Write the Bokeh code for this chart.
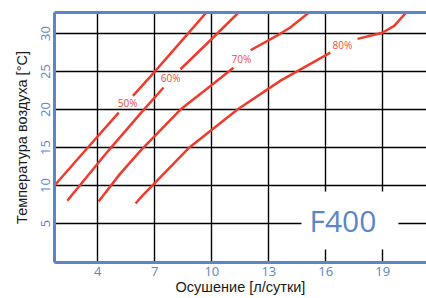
import math
from bokeh.plotting import figure
from bokeh.models import LinearAxis, FixedTicker, Range1d, Label, ColumnDataSource
from bokeh.embed import file_html
from bokeh.resources import INLINE
from bokeh.core.properties import value

nan = float("nan")

# ticks
x_ticks = [4, 7, 10, 13, 16, 19]
y_ticks = [5, 10, 15, 20, 25, 30]

# relative humidity curves (NaN = gap for the label)
rh50_x = [1.72, 3.44, 5.10, nan, 5.85, 7.00, 8.40, 9.76]
rh50_y = [10.0, 14.9, 19.6, nan, 21.8, 25.0, 29.0, 32.9]

rh60_x = [2.39, 4.56, 6.25, 7.46, nan, 8.35, 9.98, 11.46]
rh60_y = [8.0, 14.6, 19.5, 22.9, nan, 25.3, 29.25, 32.9]

rh70_x = [4.04, 5.19, 6.25, 8.35, 9.98, 11.14, nan, 12.04, 13.62, 14.13, 15.18]
rh70_y = [7.9, 11.6, 14.6, 20.0, 23.2, 25.5, nan, 27.8, 30.0, 30.8, 32.9]

rh80_x = [5.99, 6.25, 8.77, 11.35, 13.62, 16.24, nan, 17.67, 18.98, 19.60, 20.28]
rh80_y = [7.63, 8.4, 14.9, 20.0, 23.8, 27.5, nan, 29.3, 30.1, 31.0, 32.9]

rh_labels = ["50%", "60%", "70%", "80%"]
label_x = [5.57, 7.83, 11.56, 16.87]
label_y = [20.9, 24.1, 26.6, 28.55]

model_name = "F400"

BLUE = "#5B85C7"
RED = "#EE3B2B"
LABEL_RED = "#EE4A3A"

p = figure(width=426, height=298,
           x_range=Range1d(1.72, 21.3), y_range=Range1d(-0.13, 32.77),
           output_backend="svg", toolbar_location=None,
           min_border_left=54, min_border_right=0, min_border_top=12, min_border_bottom=36,
           x_axis_label="Осушение [л/сутки]", y_axis_label="Температура воздуха [°C]")
p.outline_line_color = None
p.background_fill_color = "white"
p.border_fill_color = "white"

for ax in (p.xaxis[0], p.yaxis[0]):
    ax.axis_line_color = BLUE
    ax.axis_line_width = 3
    ax.major_tick_line_color = None
    ax.minor_tick_line_color = None
    ax.major_tick_out = 0
    ax.major_tick_in = 0
    ax.minor_tick_out = 0
    ax.minor_tick_in = 0
    ax.major_label_text_color = BLUE
    ax.major_label_text_font = "Open Sans"
    ax.major_label_text_font_size = "13px"
    ax.axis_label_text_font = "Liberation Sans"
    ax.axis_label_text_font_size = "14.5px"
    ax.axis_label_text_font_style = "normal"
    ax.axis_label_text_color = "#1a1a1a"

p.xaxis.ticker = FixedTicker(ticks=x_ticks)
p.yaxis.ticker = FixedTicker(ticks=y_ticks)
p.xaxis.major_label_standoff = 4
p.xaxis.axis_label_standoff = 0
p.yaxis.major_label_standoff = 4
p.yaxis.axis_label_standoff = 9
p.yaxis.major_label_orientation = "vertical"

p.xgrid.ticker = FixedTicker(ticks=x_ticks)
p.ygrid.ticker = FixedTicker(ticks=y_ticks)
for g in (p.xgrid[0], p.ygrid[0]):
    g.grid_line_color = "black"
    g.grid_line_width = 1.4

top = LinearAxis(ticker=FixedTicker(ticks=[]), axis_line_color=BLUE, axis_line_width=3,
                 major_tick_out=0, major_tick_in=0, minor_tick_out=0, minor_tick_in=0,
                 major_label_text_font_size="0px")
p.add_layout(top, "above")

for xs, ys in ((rh50_x, rh50_y), (rh60_x, rh60_y), (rh70_x, rh70_y), (rh80_x, rh80_y)):
    p.line(xs, ys, line_color=RED, line_width=2.5)

src = ColumnDataSource(dict(x=label_x, y=label_y, t=rh_labels))
p.text(x="x", y="y", text="t", source=src, text_align="center", text_baseline="middle",
       text_font=value("Open Sans"), text_font_size="10px", text_color=LABEL_RED)

badge = Label(x=17.27, y=5.39, text=model_name, text_align="center", text_baseline="middle",
              text_font="Open Sans", text_font_size="30px", text_color=BLUE,
              background_fill_color="white", padding=(8, 22, 8, 9))
p.add_layout(badge)

open("out.html", "w").write(file_html(p, INLINE))
